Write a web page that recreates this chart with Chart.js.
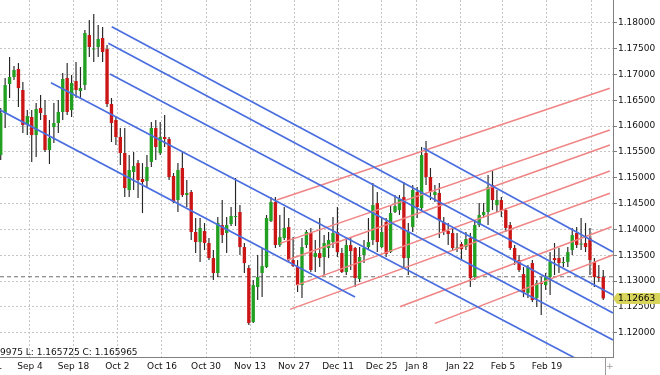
<!DOCTYPE html>
<html><head><meta charset="utf-8">
<script src="https://cdn.jsdelivr.net/npm/chart.js@4/dist/chart.umd.min.js"></script>
<style>html,body{margin:0;padding:0;background:#fff;}canvas{display:block;}</style>
</head><body>
<canvas id="c" width="660" height="375"></canvas>
<script>
const opens = [
1.15438,1.16251,1.16813,1.16948,1.17103,1.16697,1.16019,1.16174,1.15825,1.16348,
1.16213,1.15535,1.15980,1.16058,1.16271,1.16929,1.16309,1.16871,1.16677,1.16793,
1.17761,1.17481,1.17529,1.17703,1.17490,1.16426,1.16116,1.15787,1.15477,1.14761,
1.15109,1.15283,1.14974,1.14935,1.15303,1.15961,1.15477,1.15787,1.15748,1.15032,
1.14567,1.15187,1.14664,1.14722,1.13948,1.13754,1.13967,1.13735,1.13444,1.13154,
1.14083,1.13928,1.14102,1.14238,1.14335,1.13657,1.13251,1.12205,1.12883,1.13154,
1.13270,1.14160,1.14528,1.13696,1.13831,1.14044,1.13405,1.13270,1.12921,1.13696,
1.13928,1.13464,1.13541,1.13464,1.13638,1.13754,1.13948,1.13541,1.13173,1.13696,
1.13638,1.13038,1.13502,1.13657,1.13793,1.14509,1.13657,1.14141,1.13560,1.14335,
1.14373,1.14625,1.13444,1.14044,1.14722,1.14412,1.15477,1.15012,1.14664,1.14703,
1.14141,1.13967,1.13928,1.13628,1.13715,1.13657,1.13831,1.13076,1.14083,1.14277,
1.14335,1.14857,1.14470,1.14567,1.14373,1.14083,1.13638,1.13405,1.13134,1.12767,
1.13347,1.12670,1.12960,1.12921,1.13076,1.13444,1.13444,1.13347,1.13367,1.13599,
1.13928,1.13705,1.13735,1.13831,1.13367,1.13076,1.13076
];
const highs = [
1.16348,1.16929,1.17336,1.17161,1.17219,1.16852,1.16309,1.16309,1.16445,1.16600,
1.16503,1.16116,1.16445,1.16503,1.17026,1.17219,1.16987,1.17239,1.17142,1.17858,
1.18052,1.18168,1.17955,1.17916,1.17568,1.16542,1.16174,1.15961,1.15961,1.15438,
1.15496,1.15341,1.15283,1.15438,1.16077,1.16116,1.16077,1.16213,1.15787,1.15090,
1.15283,1.15496,1.14954,1.14761,1.14219,1.14219,1.14122,1.13831,1.13599,1.14238,
1.14567,1.14238,1.14432,1.14993,1.14470,1.13735,1.13309,1.13018,1.13502,1.13638,
1.14277,1.14625,1.14625,1.14277,1.14432,1.14219,1.13851,1.13405,1.13831,1.13986,
1.14025,1.13793,1.14219,1.13889,1.13948,1.14238,1.14432,1.13638,1.13831,1.13851,
1.13657,1.13657,1.13793,1.14219,1.14896,1.14722,1.14219,1.14219,1.14470,1.14664,
1.14664,1.14916,1.14122,1.14857,1.14819,1.15593,1.15709,1.15187,1.14857,1.14896,
1.14238,1.14122,1.14025,1.13928,1.13754,1.13948,1.13928,1.14180,1.14509,1.14509,
1.15051,1.15128,1.14761,1.14625,1.14412,1.14141,1.13696,1.13502,1.13270,1.13309,
1.13405,1.13018,1.13076,1.13154,1.13560,1.13735,1.13638,1.13464,1.13657,1.14025,
1.14044,1.14219,1.14122,1.14025,1.13444,1.13309,1.13212
];
const lows = [
1.15341,1.15961,1.16542,1.16890,1.16368,1.15864,1.15825,1.15303,1.15400,1.16116,
1.15496,1.15264,1.15671,1.15864,1.16116,1.16213,1.16174,1.16542,1.16542,1.16697,
1.17336,1.17239,1.17336,1.17239,1.16368,1.15690,1.15632,1.15245,1.14625,1.14625,
1.14761,1.14606,1.14315,1.14819,1.15206,1.15341,1.15438,1.15593,1.14954,1.14509,
1.14335,1.14625,1.14432,1.13793,1.13541,1.13367,1.13599,1.13405,1.13018,1.13076,
1.13735,1.13541,1.14064,1.14064,1.13502,1.13154,1.12147,1.12186,1.12631,1.12689,
1.13251,1.14141,1.13638,1.13657,1.13793,1.13367,1.13270,1.12786,1.12670,1.13638,
1.13173,1.13173,1.13270,1.13115,1.13444,1.13638,1.13464,1.13154,1.13115,1.13212,
1.12883,1.12980,1.13347,1.13599,1.13696,1.13560,1.13638,1.13464,1.13541,1.14315,
1.14277,1.13270,1.13115,1.13948,1.14219,1.14373,1.14857,1.14567,1.14528,1.13831,
1.13889,1.13696,1.13599,1.13560,1.13405,1.13599,1.12883,1.13018,1.14044,1.14219,
1.14083,1.14373,1.14335,1.14238,1.13948,1.13599,1.13309,1.13173,1.12689,1.12670,
1.12592,1.12496,1.12341,1.12825,1.12728,1.13115,1.13154,1.13270,1.13270,1.13502,
1.13638,1.13599,1.13560,1.13115,1.12883,1.12980,1.12631
];
const closes = [
1.16251,1.16793,1.16948,1.17084,1.16735,1.16019,1.16193,1.15825,1.16329,1.16251,
1.15535,1.15767,1.16058,1.16271,1.16910,1.16271,1.16832,1.16697,1.16735,1.17800,
1.17529,1.17500,1.17684,1.17432,1.16426,1.16058,1.15787,1.15477,1.14799,1.15148,
1.15225,1.14954,1.14916,1.15206,1.15961,1.15593,1.15787,1.15748,1.15012,1.14528,
1.15148,1.14664,1.14703,1.13948,1.13754,1.14025,1.13735,1.13444,1.13154,1.14122,
1.13889,1.14083,1.14257,1.14257,1.13657,1.13347,1.12186,1.12921,1.13076,1.13289,
1.14219,1.14528,1.13696,1.13851,1.14025,1.13405,1.13289,1.12921,1.13657,1.13948,
1.13212,1.13541,1.13444,1.13735,1.13793,1.13928,1.13560,1.13173,1.13696,1.13580,
1.13057,1.13464,1.13638,1.13754,1.14470,1.13754,1.13948,1.13522,1.14315,1.14451,
1.14586,1.13444,1.13948,1.14761,1.14432,1.15438,1.15012,1.14722,1.14722,1.14180,
1.13948,1.13909,1.13638,1.13647,1.13618,1.13812,1.13057,1.14083,1.14277,1.14335,
1.14819,1.14567,1.14567,1.14373,1.14025,1.13638,1.13405,1.13212,1.12786,1.13270,
1.12631,1.12960,1.12941,1.13076,1.13367,1.13405,1.13347,1.13367,1.13560,1.13889,
1.13696,1.13725,1.13657,1.13405,1.13076,1.13057,1.12663
];

// axis values
const yTicks = [1.12,1.125,1.13,1.135,1.14,1.145,1.15,1.155,1.16,1.165,1.17,1.175,1.18];
const xTickPos = [-3.25,6.61,16.43,26.32,36.40,46.34,56.27,66.20,76.13,85.99,93.89,103.67,113.37,123.3,133.39];
const xTickLabels = ['Aug 21','Sep 4','Sep 18','Oct 2','Oct 16','Oct 30','Nov 13','Nov 27','Dec 11','Dec 25','Jan 8','Jan 22','Feb 5','Feb 19',''];
const xRange = [-0.16, 138.2];
const yRange = [1.11529, 1.18439];

// trend lines: [barIndex1, price1, barIndex2, price2]
const blueLines = [
  [25.06, 1.17922, 138.2, 1.12728],
  [24.29, 1.17601, 138.2, 1.12379],
  [24.67, 1.17006, 138.2, 1.11857],
  [11.35, 1.16838, 131.0, 1.11447],
  [-1.0, 1.16347, 79.98, 1.12689],
  [95.4, 1.15568, 138.2, 1.13560]
];
const pinkLines = [
  [62.3, 1.14567, 137.5, 1.16730],
  [63.05, 1.13729, 137.5, 1.15922],
  [64.7, 1.13405, 137.5, 1.15632],
  [66.8, 1.12921, 137.5, 1.15128],
  [65.3, 1.12451, 137.5, 1.14697],
  [90.1, 1.12501, 137.9, 1.14050],
  [98.0, 1.12180, 138.2, 1.13502]
];
const markerLevel = 1.13082;
const dataWindowText = '9975 L: 1.165725 C: 1.165965';

const GREEN = '#22a022', RED = '#cc1616', BLUE = '#4a6ee0', PINK = '#f08484';
const barIdx = closes.map((_, i) => i);

const datasets = [];
blueLines.forEach(l => datasets.push({
  type: 'line', data: [{x: l[0], y: l[1]}, {x: l[2], y: l[3]}],
  borderColor: BLUE, borderWidth: 1.7, pointRadius: 0, tension: 0, fill: false, order: 0
}));
pinkLines.forEach(l => datasets.push({
  type: 'line', data: [{x: l[0], y: l[1]}, {x: l[2], y: l[3]}],
  borderColor: PINK, borderWidth: 1.5, pointRadius: 0, tension: 0, fill: false, order: 0
}));
datasets.push({
  type: 'line', data: [{x: xRange[0], y: markerLevel}, {x: xRange[1], y: markerLevel}],
  borderColor: '#6e6e6e', borderWidth: 1, borderDash: [4, 3], pointRadius: 0, fill: false, order: 3
});
datasets.push({
  type: 'bar', data: barIdx.map(i => ({x: i, y: [lows[i], highs[i]]})),
  backgroundColor: '#262626', barPercentage: 0.26, categoryPercentage: 1,
  grouped: false, inflateAmount: 0, borderWidth: 0, order: 2
});
datasets.push({
  type: 'bar', data: barIdx.map(i => ({x: i, y: [Math.min(opens[i], closes[i]), Math.max(opens[i], closes[i])]})),
  backgroundColor: c => closes[c.dataIndex] >= opens[c.dataIndex] ? GREEN : RED,
  barPercentage: 0.76, categoryPercentage: 1, grouped: false, inflateAmount: 0,
  borderWidth: 0, minBarLength: 1, order: 1
});

const overlay = {
  id: 'overlay',
  afterDraw(chart) {
    const {ctx, chartArea, scales: {y}} = chart;
    ctx.save();
    ctx.font = '9px "DejaVu Sans"';
    ctx.fillStyle = '#111';
    ctx.textAlign = 'left';
    ctx.textBaseline = 'alphabetic';
    ctx.fillText(dataWindowText, 0, chartArea.bottom - 2);
    const last = closes[closes.length - 1];
    const py = y.getPixelForValue(last);
    const x0 = chartArea.right;
    ctx.fillStyle = '#d8d45c';
    ctx.beginPath();
    ctx.moveTo(x0, py);
    ctx.lineTo(x0 + 4, py - 5.5);
    ctx.lineTo(chart.width, py - 5.5);
    ctx.lineTo(chart.width, py + 5.5);
    ctx.lineTo(x0 + 4, py + 5.5);
    ctx.closePath();
    ctx.fill();
    ctx.fillStyle = '#000';
    ctx.textBaseline = 'middle';
    ctx.fillText(last.toFixed(5), x0 + 5, py + 0.5);
    ctx.strokeStyle = '#999';
    ctx.lineWidth = 1;
    ctx.beginPath();
    ctx.moveTo(x0 - 7.5, chartArea.bottom);
    ctx.lineTo(x0 - 7.5, chart.height);
    ctx.stroke();
    ctx.fillStyle = '#999';
    ctx.fillText('+', x0 - 7, chartArea.bottom + 10);
    ctx.restore();
  }
};

Chart.defaults.font.family = '"DejaVu Sans", Verdana, sans-serif';
Chart.defaults.font.size = 9;

new Chart(document.getElementById('c'), {
  type: 'bar',
  data: {datasets},
  options: {
    responsive: false, animation: false, events: [], devicePixelRatio: 1,
    layout: {padding: 0},
    plugins: {legend: {display: false}, tooltip: {enabled: false}},
    scales: {
      x: {
        type: 'linear', min: xRange[0], max: xRange[1], offset: false,
        grid: {display: true, offset: false, color: '#c6c6c6', lineWidth: 1, drawTicks: false},
        border: {display: true, color: '#808080', dash: [2, 2]},
        ticks: {autoSkip: false, maxRotation: 0, minRotation: 0, padding: 4, color: '#111',
                callback: (v, i) => xTickLabels[i]},
        afterBuildTicks: s => { s.ticks = xTickPos.map(v => ({value: v})); },
        afterFit: s => { s.height = 18; s.paddingLeft = 0; s.paddingRight = 0; }
      },
      y: {
        type: 'linear', position: 'right', min: yRange[0], max: yRange[1],
        grid: {color: '#c6c6c6', lineWidth: 1, drawTicks: true, tickLength: 4, tickColor: '#808080'},
        border: {display: true, color: '#808080', dash: [2, 2]},
        ticks: {padding: 1, color: '#111', callback: v => v.toFixed(5)},
        afterBuildTicks: s => { s.ticks = yTicks.map(v => ({value: v})); },
        afterFit: s => { s.width = 47; s.paddingTop = 0; s.paddingBottom = 0; }
      }
    }
  },
  plugins: [overlay]
});
</script>
</body></html>
